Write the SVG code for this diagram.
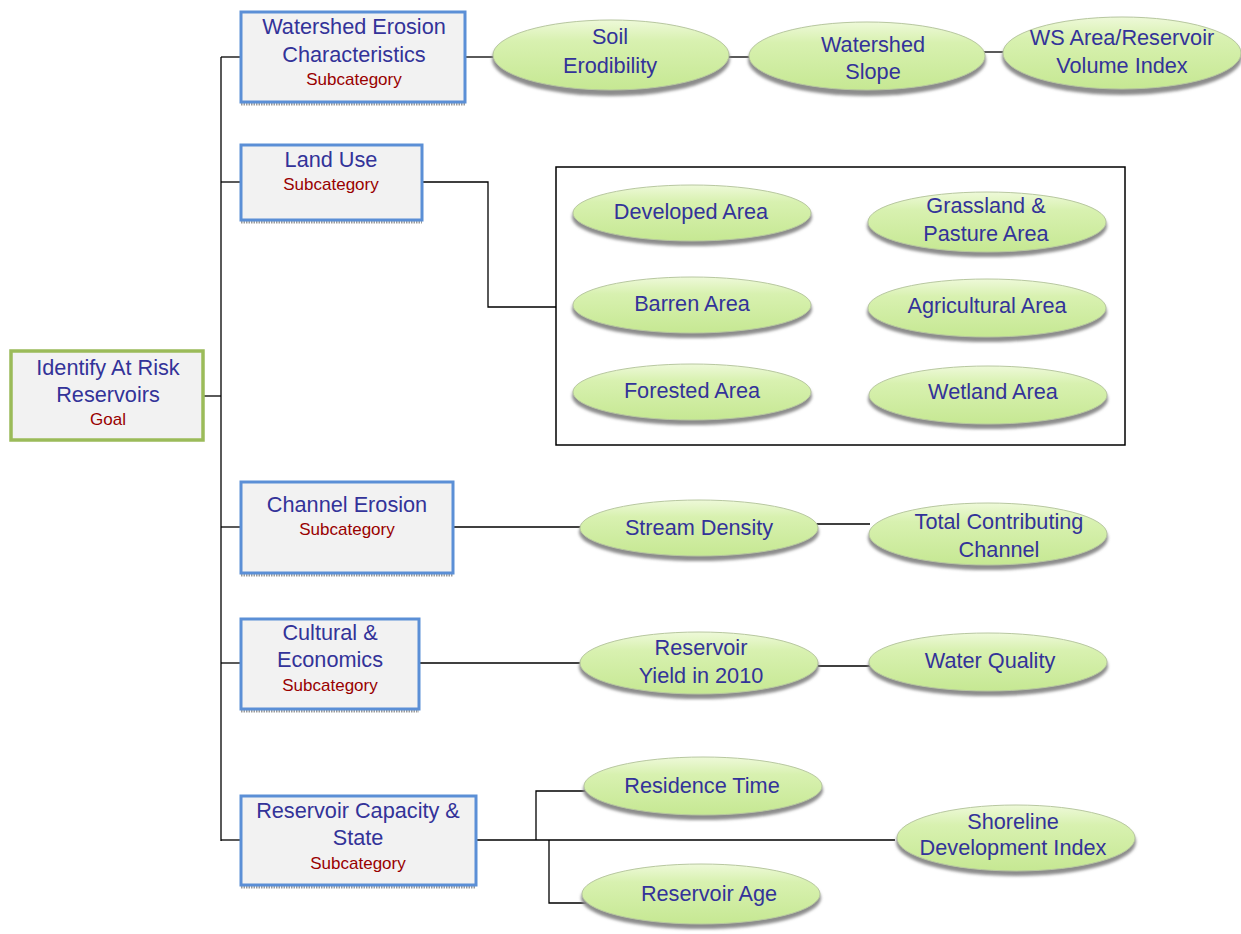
<svg xmlns="http://www.w3.org/2000/svg" width="1241" height="934" viewBox="0 0 1241 934">
<style>
.box{fill:#f2f2f2;stroke:#5b8fd6;stroke-width:3}
.goal{fill:#f2f2f2;stroke:#9bbb59;stroke-width:3.5}
.shd{fill:none;stroke:#9a9a9a;stroke-width:3;stroke-dasharray:1.5 1}
.t{font-family:"Liberation Sans",Arial,sans-serif;font-size:21.7px;fill:#333399;text-anchor:middle}
.s{font-family:"Liberation Sans",Arial,sans-serif;font-size:17px;fill:#990000;text-anchor:middle}
.ell{fill:url(#eg);stroke:#b8c8a0;stroke-width:1}
.es{fill:#8c8c8c;filter:url(#bl)}
.c{fill:none;stroke:#000;stroke-width:1.3}
</style>
<defs>
<linearGradient id="eg" x1="0" y1="0" x2="0" y2="1">
<stop offset="0" stop-color="#eef9d9"/>
<stop offset="0.3" stop-color="#d8f1b0"/>
<stop offset="1" stop-color="#c6e893"/>
</linearGradient>
<filter id="bl" x="-10%" y="-20%" width="120%" height="140%"><feGaussianBlur stdDeviation="1.5"/></filter>
</defs>
<rect width="1241" height="934" fill="#fff"/>
<g id="connectors">
<path class="c" d="M221 57V841"/>
<path class="c" d="M204 396H221"/>
<path class="c" d="M221 57H240"/>
<path class="c" d="M221 182H240"/>
<path class="c" d="M221 527H240"/>
<path class="c" d="M221 663H240"/>
<path class="c" d="M221 840H240"/>
<path class="c" d="M465 57H494"/>
<path class="c" d="M729 57H750"/>
<path class="c" d="M984 52H1004"/>
<path class="c" d="M422 182H488V307H556"/>
<path class="c" d="M453 527H582"/>
<path class="c" d="M816 524H870"/>
<path class="c" d="M419 663H582"/>
<path class="c" d="M816 666H870"/>
<path class="c" d="M476 840H895"/>
<path class="c" d="M536 840V791H598"/>
<path class="c" d="M549 840V903H586"/>
<rect x="556" y="167" width="569" height="278" fill="none" stroke="#000" stroke-width="1.5"/>
</g>
<g id="goal">
<rect class="goal" x="11" y="351" width="192" height="89"/>
<text class="t" x="108" y="375">Identify At Risk</text>
<text class="t" x="108" y="402">Reservoirs</text>
<text class="s" x="108" y="425">Goal</text>
</g>
<g id="sub-watershed">
<line class="shd" x1="241" y1="104" x2="465" y2="104"/>
<rect class="box" x="241" y="12" width="224" height="90"/>
<text class="t" x="354" y="34">Watershed Erosion</text>
<text class="t" x="354" y="62">Characteristics</text>
<text class="s" x="354" y="85">Subcategory</text>
</g>
<g id="sub-landuse">
<line class="shd" x1="241" y1="222" x2="422" y2="222"/>
<rect class="box" x="241" y="145" width="181" height="75"/>
<text class="t" x="331" y="167">Land Use</text>
<text class="s" x="331" y="190">Subcategory</text>
</g>
<g id="sub-channel">
<line class="shd" x1="241" y1="575" x2="453" y2="575"/>
<rect class="box" x="241" y="482" width="212" height="91"/>
<text class="t" x="347" y="512">Channel Erosion</text>
<text class="s" x="347" y="535">Subcategory</text>
</g>
<g id="sub-cultural">
<line class="shd" x1="241" y1="711" x2="419" y2="711"/>
<rect class="box" x="241" y="619" width="178" height="90"/>
<text class="t" x="330" y="640">Cultural &amp;</text>
<text class="t" x="330" y="667">Economics</text>
<text class="s" x="330" y="691">Subcategory</text>
</g>
<g id="sub-reservoir">
<line class="shd" x1="241" y1="887" x2="476" y2="887"/>
<rect class="box" x="241" y="796" width="235" height="89"/>
<text class="t" x="358" y="818">Reservoir Capacity &amp;</text>
<text class="t" x="358" y="845">State</text>
<text class="s" x="358" y="869">Subcategory</text>
</g>
<g id="soil">
<ellipse class="es" cx="611" cy="59" rx="119" ry="37"/>
<ellipse class="ell" cx="611" cy="55" rx="118" ry="35"/>
<text class="t" x="610" y="44">Soil</text>
<text class="t" x="610" y="73">Erodibility</text>
</g>
<g id="slope">
<ellipse class="es" cx="867" cy="60" rx="119" ry="36"/>
<ellipse class="ell" cx="867" cy="56" rx="118" ry="34"/>
<text class="t" x="873" y="52">Watershed</text>
<text class="t" x="873" y="79">Slope</text>
</g>
<g id="wsarea">
<ellipse class="es" cx="1122" cy="57" rx="120" ry="38"/>
<ellipse class="ell" cx="1122" cy="53" rx="119" ry="36"/>
<text class="t" x="1122" y="45">WS Area/Reservoir</text>
<text class="t" x="1122" y="73">Volume Index</text>
</g>
<g id="developed">
<ellipse class="es" cx="692" cy="217" rx="120" ry="29"/>
<ellipse class="ell" cx="692" cy="213" rx="119" ry="28"/>
<text class="t" x="691" y="219">Developed Area</text>
</g>
<g id="grassland">
<ellipse class="es" cx="987" cy="226" rx="120" ry="31"/>
<ellipse class="ell" cx="987" cy="222" rx="119" ry="30"/>
<text class="t" x="986" y="213">Grassland &amp;</text>
<text class="t" x="986" y="241">Pasture Area</text>
</g>
<g id="barren">
<ellipse class="es" cx="692" cy="309" rx="120" ry="29"/>
<ellipse class="ell" cx="692" cy="305" rx="119" ry="28"/>
<text class="t" x="692" y="311">Barren Area</text>
</g>
<g id="agricultural">
<ellipse class="es" cx="987" cy="312" rx="120" ry="30"/>
<ellipse class="ell" cx="987" cy="308" rx="119" ry="29"/>
<text class="t" x="987" y="313">Agricultural Area</text>
</g>
<g id="forested">
<ellipse class="es" cx="692" cy="396" rx="120" ry="29"/>
<ellipse class="ell" cx="692" cy="392" rx="119" ry="28"/>
<text class="t" x="692" y="398">Forested Area</text>
</g>
<g id="wetland">
<ellipse class="es" cx="988" cy="399" rx="120" ry="30"/>
<ellipse class="ell" cx="988" cy="395" rx="119" ry="29"/>
<text class="t" x="993" y="399">Wetland Area</text>
</g>
<g id="stream">
<ellipse class="es" cx="699" cy="532" rx="120" ry="29"/>
<ellipse class="ell" cx="699" cy="528" rx="119" ry="28"/>
<text class="t" x="699" y="535">Stream Density</text>
</g>
<g id="totalchannel">
<ellipse class="es" cx="988" cy="538" rx="120" ry="32"/>
<ellipse class="ell" cx="988" cy="534" rx="119" ry="31"/>
<text class="t" x="999" y="529">Total Contributing</text>
<text class="t" x="999" y="557">Channel</text>
</g>
<g id="yield">
<ellipse class="es" cx="699" cy="667" rx="120" ry="32"/>
<ellipse class="ell" cx="699" cy="663" rx="119" ry="31"/>
<text class="t" x="701" y="655">Reservoir</text>
<text class="t" x="701" y="683">Yield in 2010</text>
</g>
<g id="waterquality">
<ellipse class="es" cx="988" cy="666" rx="120" ry="30"/>
<ellipse class="ell" cx="988" cy="662" rx="119" ry="29"/>
<text class="t" x="990" y="668">Water Quality</text>
</g>
<g id="residence">
<ellipse class="es" cx="703" cy="790" rx="120" ry="30"/>
<ellipse class="ell" cx="703" cy="786" rx="119" ry="29"/>
<text class="t" x="702" y="793">Residence Time</text>
</g>
<g id="shoreline">
<ellipse class="es" cx="1016" cy="842" rx="120" ry="34"/>
<ellipse class="ell" cx="1016" cy="838" rx="119" ry="33"/>
<text class="t" x="1013" y="829">Shoreline</text>
<text class="t" x="1013" y="855">Development Index</text>
</g>
<g id="age">
<ellipse class="es" cx="701" cy="898" rx="120" ry="31"/>
<ellipse class="ell" cx="701" cy="894" rx="119" ry="30"/>
<text class="t" x="709" y="901">Reservoir Age</text>
</g>
</svg>
